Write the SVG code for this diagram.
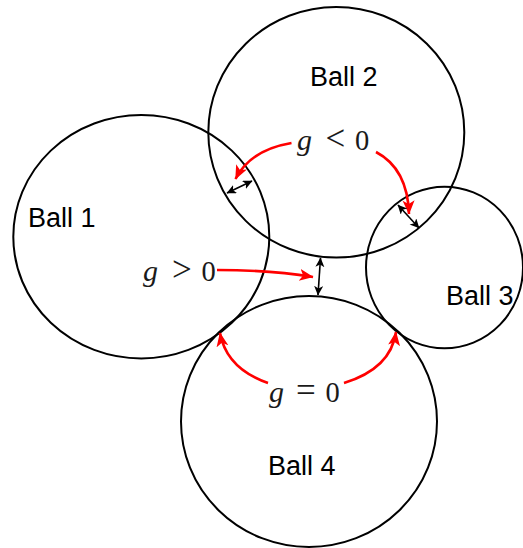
<svg xmlns="http://www.w3.org/2000/svg" width="523" height="548" viewBox="0 0 523 548">
<style>
.ball{fill:none;stroke:#000;stroke-width:2}
.lbl{font-family:"Liberation Sans",Arial,sans-serif;font-size:27px;fill:#000}
.math{font-family:"Liberation Serif","DejaVu Serif",serif;font-size:28.5px;fill:#1a1a1a}
.v{font-style:italic;font-size:30px}
.rel{font-size:35px}
.red{fill:none;stroke:#ff0000;stroke-width:2.6;marker-end:url(#rh)}
.gap{fill:none;stroke:#000;stroke-width:1.6;marker-start:url(#bh);marker-end:url(#bh)}
</style>
<defs>
<marker id="rh" markerUnits="userSpaceOnUse" markerWidth="16" markerHeight="14" refX="13.5" refY="6" orient="auto">
<path d="M0,0 L14,6 L0,12 L3.5,6 z" fill="#ff0000"/>
</marker>
<marker id="bh" markerUnits="userSpaceOnUse" markerWidth="11" markerHeight="10" refX="9" refY="4.5" orient="auto-start-reverse">
<path d="M0,0 L9.5,4.5 L0,9 L2.4,4.5 z" fill="#000"/>
</marker>
</defs>
<g id="ball1"><ellipse class="ball" cx="141.3" cy="236.7" rx="128" ry="121.7"/><text class="lbl" x="28" y="227">Ball 1</text></g>
<g id="ball2"><ellipse class="ball" cx="336.3" cy="132.3" rx="128" ry="125.3"/><text class="lbl" x="310" y="86">Ball 2</text></g>
<g id="ball3"><ellipse class="ball" cx="444.5" cy="267.5" rx="78.5" ry="80.8"/><text class="lbl" x="446" y="305">Ball 3</text></g>
<g id="ball4"><ellipse class="ball" cx="309" cy="421.5" rx="128" ry="125.5"/><text class="lbl" x="268" y="475">Ball 4</text></g>
<g id="labels">
<text class="math" y="149.5"><tspan class="v" x="297">g</tspan><tspan class="rel" x="325.5">&lt;</tspan><tspan x="355">0</tspan></text>
<text class="math" y="280.7"><tspan class="v" x="143">g</tspan><tspan class="rel" x="172">&gt;</tspan><tspan x="201.5">0</tspan></text>
<text class="math" y="401.7"><tspan class="v" x="269">g</tspan><tspan class="rel" x="296">=</tspan><tspan x="325.5">0</tspan></text>
</g>
<g id="connectors">
<path class="red" d="M291.5,143 Q250,150 235.5,179"/>
<path class="red" d="M376,152 C395,162 408,182 409,214"/>
<path class="red" d="M217,270 Q270,270 313,277"/>
<path class="red" d="M268,383 C245,375 225,360 220,333"/>
<path class="red" d="M344,383 C370,375 392,360 396,332"/>
<path class="gap" d="M227,193 L252,181"/>
<path class="gap" d="M398,205 L419,228"/>
<path class="gap" d="M320.5,258 L318,295"/>
</g>
</svg>
